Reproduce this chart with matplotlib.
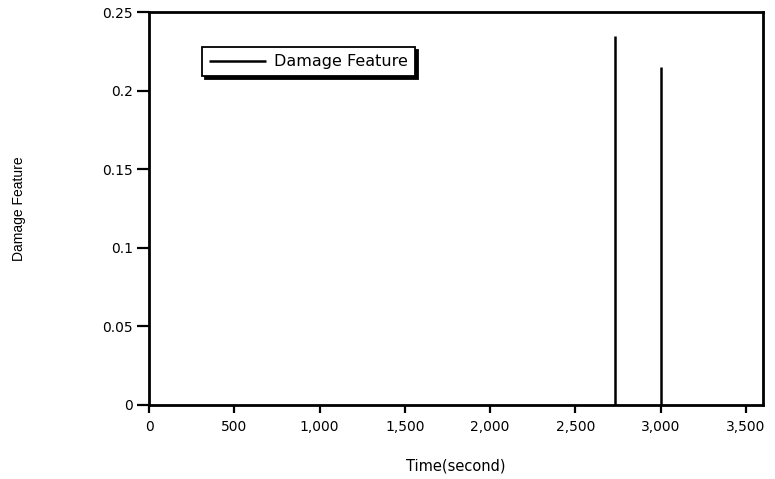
import matplotlib

matplotlib.use("Agg")
import matplotlib.pyplot as plt
from matplotlib.ticker import FuncFormatter

# Damage feature spikes (time in seconds, feature value)
spike_times = [2733, 3000]
spike_values = [0.235, 0.215]

x_ticks = [0, 500, 1000, 1500, 2000, 2500, 3000, 3500]
y_ticks = [0, 0.05, 0.1, 0.15, 0.2, 0.25]

plt.rcParams["font.family"] = ["DejaVu Sans"]

fig = plt.figure(figsize=(7.75, 4.79), dpi=100)
ax = fig.add_axes([149 / 775, 1 - 405 / 479, 614 / 775, 393 / 479])

ax.vlines(spike_times, 0, spike_values, colors="black", linewidth=1.8,
          label="Damage Feature")

ax.set_xlim(0, 3600)
ax.set_ylim(0, 0.25)
ax.set_xticks(x_ticks)
ax.set_yticks(y_ticks)
ax.xaxis.set_major_formatter(FuncFormatter(lambda v, p: f"{v:,.0f}"))
ax.yaxis.set_major_formatter(FuncFormatter(lambda v, p: f"{v:g}"))
ax.tick_params(direction="out", width=1.6, labelsize=10, colors="black")
ax.tick_params(axis="x", length=5.5, pad=5)
ax.tick_params(axis="y", length=8.5, pad=3)

for s in ax.spines.values():
    s.set_linewidth(2)

ax.set_xlabel("Time(second)", fontsize=10.5)
ax.xaxis.set_label_coords(0.5, -0.135)
ax.set_ylabel("Damage Feature", fontsize=10, family=["Liberation Sans", "DejaVu Sans"])
ax.yaxis.set_label_coords(-0.2, 0.5)

leg = ax.legend(loc="upper left", bbox_to_anchor=(0.086, 0.911),
                borderaxespad=0, fancybox=False, fontsize=11.5,
                shadow={"color": "black", "alpha": 1},
                handlelength=3.6, borderpad=0.45, handletextpad=0.45)
leg.get_frame().set_edgecolor("black")
leg.get_frame().set_linewidth(1.3)

fig.savefig("out.png", dpi=100)
